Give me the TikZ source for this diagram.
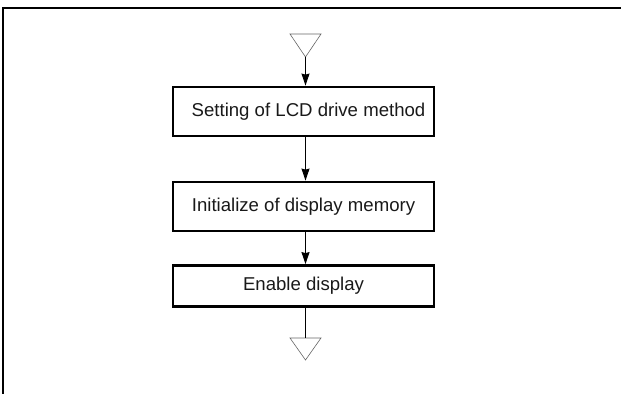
\documentclass[tikz,border=0pt]{standalone}
\usepackage{fontspec}
\setmainfont{Liberation Sans}
\usetikzlibrary{arrows.meta}
\begin{document}
\begin{tikzpicture}[x=1pt,y=-1pt,
  stepbox/.style={draw=black,line width=2.8pt,minimum width=261pt,inner sep=0pt,
    font=\fontsize{18.6}{22}\selectfont,text=black!90},
  flow/.style={draw=black,line width=1pt,-{Stealth[length=12pt,width=8pt,inset=1pt]}},
  term/.style={draw=black!60,line width=0.6pt},
  frame/.style={draw=black,line width=1.3pt}]
\useasboundingbox (0,0) rectangle (621,394);
\draw[frame] (621,8) -- (3,8) -- (3,394);
% terminals
\draw[term] (290,34) -- (321,34) -- (305.5,57) -- cycle;
\coordinate (t1) at (305.5,57);
\draw[term] (290,338) -- (321,338) -- (305.5,360) -- cycle;
\coordinate (t2) at (305.5,338);
% boxes
\node[stepbox,minimum height=49pt] (b1) at (303.5,111.5) {\hspace{10pt}Setting of LCD drive method};
\node[stepbox,minimum height=49pt] (b2) at (303.5,206.5) {Initialize of display memory};
\node[stepbox,minimum height=41pt] (b3) at (303.5,286) {Enable display};
% connectors
\draw[flow] (t1) -- (b1.north -| t1);
\draw[flow] (b1.south -| t1) -- (b2.north -| t1);
\draw[flow] (b2.south -| t1) -- (b3.north -| t1);
\draw[draw=black,line width=1pt] (b3.south -| t2) -- (t2);
\end{tikzpicture}
\end{document}
